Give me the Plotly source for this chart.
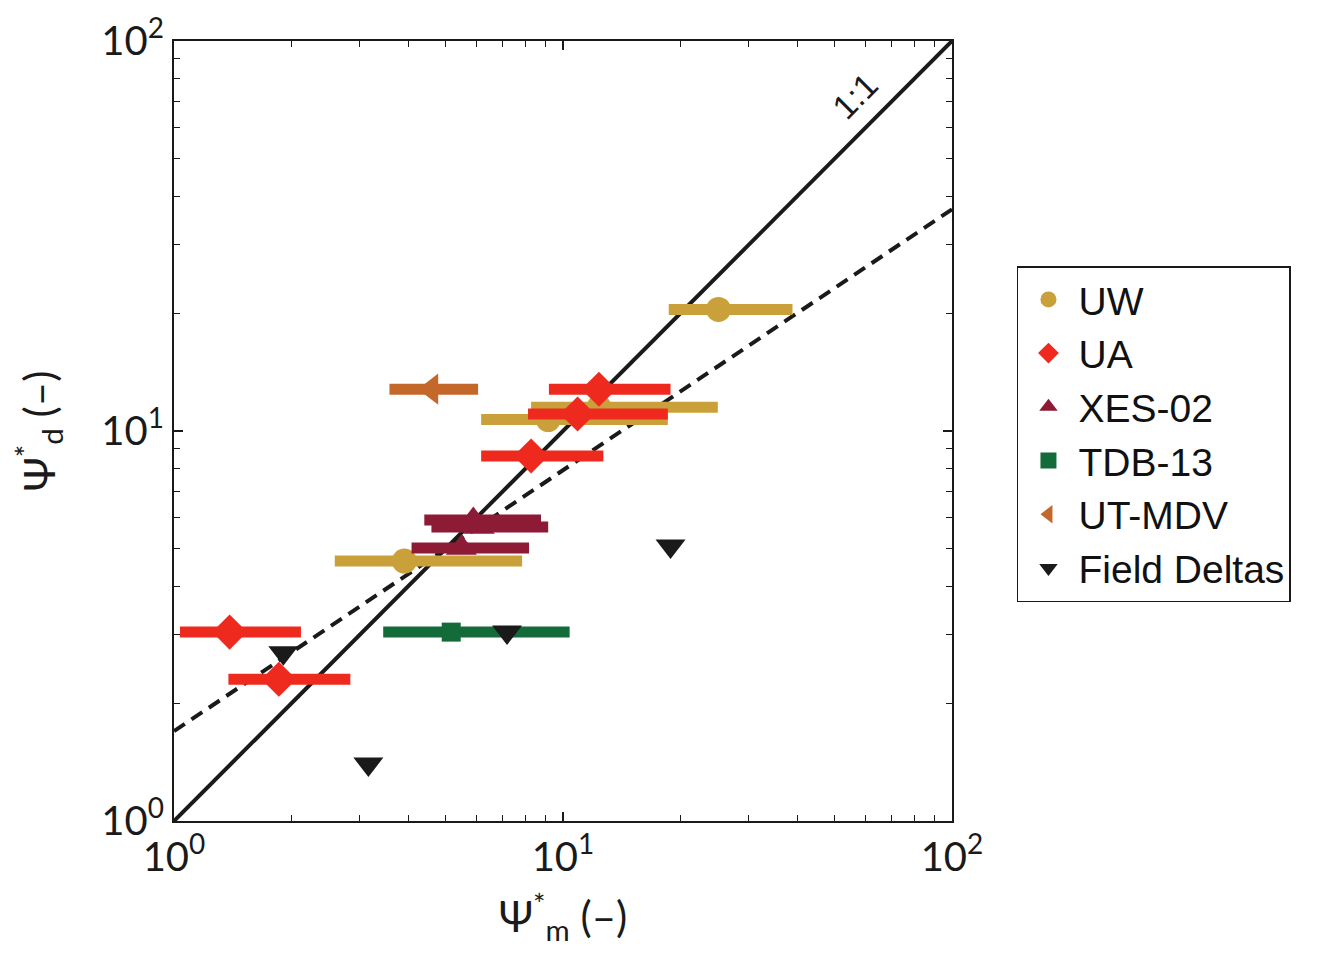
import plotly.graph_objects as go

# ---- data ----
uw_x = [25.1, 9.16, 12.37, 3.91]
uw_y = [20.5, 10.7, 11.5, 4.64]
uw_xlo = [18.7, 6.16, 8.28, 2.59]
uw_xhi = [38.9, 18.6, 25.0, 7.85]

ua_x = [12.37, 10.9, 8.28, 1.39, 1.86]
ua_y = [12.8, 11.06, 8.63, 3.05, 2.31]
ua_xlo = [9.2, 8.13, 6.16, 1.036, 1.38]
ua_xhi = [18.9, 18.6, 12.7, 2.12, 2.84]

xes_x = [5.88, 6.09, 5.48]
xes_y = [5.91, 5.67, 5.01]
xes_xlo = [4.40, 4.59, 4.08]
xes_xhi = [8.78, 9.16, 8.18]

tdb_x = [5.16]
tdb_y = [3.05]
tdb_xlo = [3.45]
tdb_xhi = [10.4]

ut_x = [4.59]
ut_y = [12.8]
ut_xlo = [3.58]
ut_xhi = [6.05]

fd_x = [1.91, 7.18, 3.16, 18.9]
fd_y = [2.70, 3.05, 1.40, 5.07]

one_x = [1, 100]
one_y = [1, 100]
fit_coef = 1.70
fit_exp = 0.669
fit_x = [1, 100]

series = [
    ("UW", uw_x, uw_y, uw_xlo, uw_xhi, "#C9A03A", "circle", 25),
    ("UA", ua_x, ua_y, ua_xlo, ua_xhi, "#EE2A1E", "diamond", 27),
    ("XES-02", xes_x, xes_y, xes_xlo, xes_xhi, "#8E1B35", "triangle-up", 27),
    ("TDB-13", tdb_x, tdb_y, tdb_xlo, tdb_xhi, "#136B3A", "square", 19),
    ("UT-MDV", ut_x, ut_y, ut_xlo, ut_xhi, "#C4672A", "triangle-left", 27),
]

fig = go.Figure()

fig.add_trace(go.Scatter(x=one_x, y=one_y, mode="lines",
                         line=dict(color="#1a1a1a", width=4), showlegend=False))
fig.add_trace(go.Scatter(x=fit_x, y=[fit_coef * v ** fit_exp for v in fit_x], mode="lines",
                         line=dict(color="#1a1a1a", width=4, dash="13px,8px"), showlegend=False))

for name, xs, ys, lo, hi, col, sym, sz in series:
    fig.add_trace(go.Scatter(
        x=xs, y=ys, mode="markers", name=name,
        marker=dict(color=col, symbol=sym, size=sz),
        error_x=dict(type="data", symmetric=False,
                     array=[h - x for h, x in zip(hi, xs)],
                     arrayminus=[x - l for l, x in zip(lo, xs)],
                     color=col, thickness=11, width=0),
    ))

fig.add_trace(go.Scatter(x=fd_x, y=fd_y, mode="markers", name="Field Deltas",
                         marker=dict(color="#1a1a1a", symbol="triangle-down", size=26)))

# annotation position in log10 units of the axes
fig.add_annotation(x=1.75, y=1.86, xref="x", yref="y", text="1:1", showarrow=False,
                   textangle=-45, font=dict(size=34, color="#1a1a1a", family="Liberation Sans"))

tickfont = dict(family="Liberation Sans Narrow, Lato, sans-serif", size=40, color="#1a1a1a")
axis_common = dict(
    type="log", showgrid=False, zeroline=False, automargin=False,
    showline=True, linecolor="#1a1a1a", linewidth=2, mirror="allticks",
    ticks="inside", ticklen=9, tickwidth=1.5, tickcolor="#1a1a1a",
    tickvals=[1, 10, 100],
    ticktext=["10<sup>0</sup>", "10<sup>1</sup>", "10<sup>2</sup>"],
    tickfont=tickfont,
    minor=dict(ticks="inside", ticklen=6, tickwidth=1, tickcolor="#1a1a1a",
               tickvals=[2, 3, 4, 5, 6, 7, 8, 9, 20, 30, 40, 50, 60, 70, 80, 90]),
)

titlefont = dict(family="Liberation Sans Narrow, Lato, sans-serif", size=42, color="#1a1a1a")
fig.update_xaxes(range=[0, 2], **axis_common,
                 title=dict(text="Ψ<sup>*</sup><sub>m</sub> (–)", standoff=24, font=titlefont))
fig.update_yaxes(range=[0, 2], **axis_common,
                 title=dict(text="Ψ<sup>*</sup><sub>d</sub> (–)", standoff=34, font=titlefont))

fig.update_layout(
    width=1327, height=967,
    margin=dict(l=166, r=383, t=33, b=154),
    plot_bgcolor="white", paper_bgcolor="white",
    legend=dict(x=1.0835, y=0.7115, xanchor="left", yanchor="top",
                bordercolor="#1a1a1a", borderwidth=1.5, bgcolor="white",
                font=dict(family="Liberation Sans, Arial, sans-serif", size=39, color="#111"),
                itemsizing="trace", itemwidth=50, tracegroupgap=0),
    showlegend=True,
)

fig.write_html("out.html")
